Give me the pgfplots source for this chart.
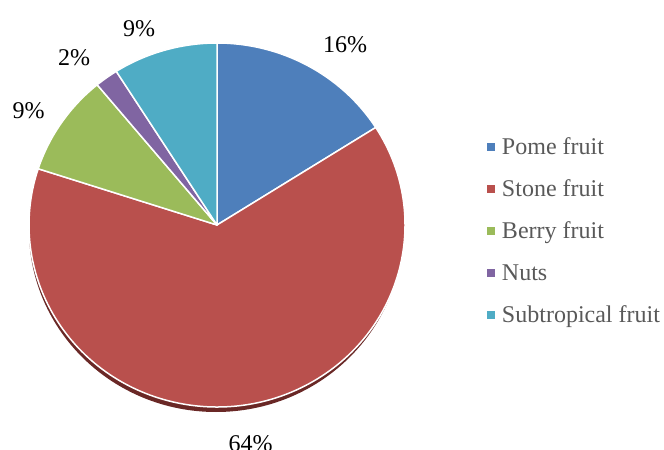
\documentclass[border=0pt]{standalone}
\usepackage{pgfplots}
\usepackage{pgfplotstable}
\pgfplotsset{compat=1.18}
\usepackage{fontspec}
\setmainfont{Liberation Serif}
\definecolor{pomec}{HTML}{4E7FBB}
\definecolor{stonec}{HTML}{B9504D}
\definecolor{berryc}{HTML}{9BBB5A}
\definecolor{nutsc}{HTML}{8065A2}
\definecolor{subtc}{HTML}{4FACC5}
\definecolor{shadowc}{HTML}{6A2826}
\definecolor{legtext}{HTML}{595959}
\pgfplotstableread{
label value col
Pome 16 pomec
Stone 64 stonec
Berry 9 berryc
Nuts 2 nutsc
Subtropical 9 subtc
}\piedata
\begin{document}
\begin{tikzpicture}
\begin{axis}[
  at={(0,0)}, anchor=south west,
  x=1bp, y=1bp, xmin=0, xmax=664, ymin=0, ymax=450,
  hide axis, clip=false,
  legend cell align=left,
  legend image code/.code={\fill[#1, draw=none] (0bp,-4bp) rectangle (8bp,4bp);},
  legend style={draw=none, fill=none, inner sep=0pt, outer sep=0pt,
    at={(487/664,324/450)}, anchor=north west,
    font=\fontsize{24bp}{28bp}\selectfont, text=legtext,
    nodes={minimum height=42bp, inner sep=0pt}, row sep=0pt, column sep=7bp},
]
\fill[shadowc] (axis cs:216,220) ellipse [x radius=187bp, y radius=182bp];
\def\astart{90}
\pgfplotsforeachungrouped \i in {0,...,4}{
  \pgfplotstablegetelem{\i}{value}\of\piedata \let\v\pgfplotsretval
  \pgfplotstablegetelem{\i}{col}\of\piedata \let\c\pgfplotsretval
  \pgfmathsetmacro\aend{\astart - 3.6*\v}
  \edef\temp{\noexpand\fill[\c, draw=white, line width=1.5bp, line join=round] (axis cs:217,225) -- (axis cs:{217+188*cos(\astart)},{225+182*sin(\astart)}) arc[start angle=\astart, end angle=\aend, x radius=188bp, y radius=182bp] -- cycle;}
  \temp
  \global\let\astart\aend
}
\addlegendimage{fill=pomec}\addlegendentry{Pome fruit}
\addlegendimage{fill=stonec}\addlegendentry{Stone fruit}
\addlegendimage{fill=berryc}\addlegendentry{Berry fruit}
\addlegendimage{fill=nutsc}\addlegendentry{Nuts}
\addlegendimage{fill=subtc}\addlegendentry{Subtropical fruit}
\begin{scope}[every node/.style={font=\fontsize{24bp}{28bp}\selectfont, inner sep=0pt}]
\node at (axis cs:345,405.5) {16\%};
\node at (axis cs:250.5,6.5) {64\%};
\node at (axis cs:28.5,339) {9\%};
\node at (axis cs:74,392) {2\%};
\node at (axis cs:139,421) {9\%};
\end{scope}
\end{axis}
\pgfresetboundingbox
\useasboundingbox (0,0) rectangle (664bp,450bp);
\end{tikzpicture}
\end{document}
